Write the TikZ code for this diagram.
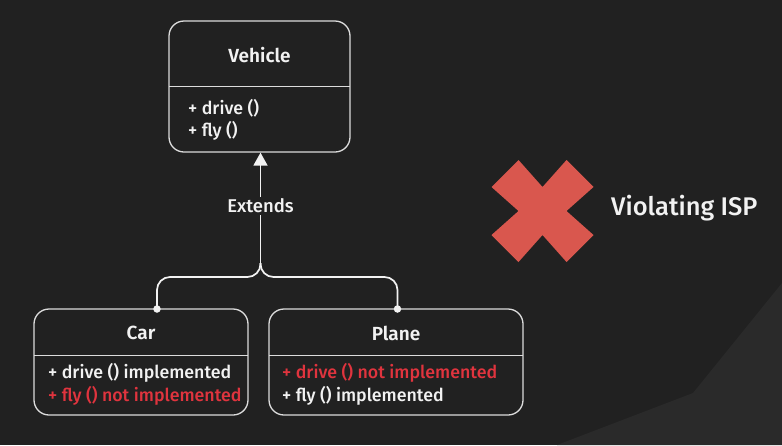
\documentclass[tikz,border=0pt]{standalone}
\usepackage{fontspec}
\setmainfont{Fira Sans}[UprightFont={* Medium}, BoldFont={* SemiBold}]
\usetikzlibrary{arrows.meta}
\definecolor{bgdark}{HTML}{212121}
\definecolor{bglight}{HTML}{2A2A2A}
\definecolor{linegray}{HTML}{DCDCDC}
\definecolor{txtwhite}{HTML}{F2F2F2}
\definecolor{txtred}{HTML}{E0343E}
\definecolor{crossred}{HTML}{D9574E}
\tikzset{
  umlbox/.style={draw=linegray, line width=1.3pt, rounded corners=15pt, inner sep=0pt},
  divider/.style={draw=linegray, line width=0.9pt},
  titletext/.style={text=txtwhite, font=\fontsize{19}{22}\selectfont\bfseries, inner sep=0pt},
  methodtext/.style={text=txtwhite, font=\fontsize{17.8}{22}\selectfont, inner sep=0pt, anchor=west},
  redtext/.style={methodtext, text=txtred},
  conn/.style={draw=txtwhite, line width=1.7pt},
  joint/.style={circle, fill=txtwhite, inner sep=0pt, minimum size=7.5pt},
}
\begin{document}
\begin{tikzpicture}[x=1pt,y=-1pt]
\useasboundingbox (0,0) rectangle (782,445);
\fill[bgdark] (0,0) rectangle (782,445);
\fill[bglight] (782,283) -- (693,393) -- (557,445) -- (782,445) -- cycle;

% Vehicle
\node[umlbox, minimum width=181pt, minimum height=131pt] (veh) at (259.5,86.5) {};
\draw[divider] (169,86) -- (350,86);
\node[titletext] (vehT) at (259.5,55) {Vehicle};
\node[methodtext] (vehM1) at (188,108) {+ drive ()};
\node[methodtext] (vehM2) at (188,131) {+ fly ()};

% Car
\node[umlbox, minimum width=214pt, minimum height=106pt] (car) at (141,362) {};
\draw[divider] (34,355) -- (248,355);
\node[titletext] (carT) at (141,333) {Car};
\node[methodtext] (carM1) at (48,373) {+ drive () implemented};
\node[redtext] (carM2) at (48,396) {+ fly () not implemented};

% Plane
\node[umlbox, minimum width=254pt, minimum height=106pt] (pla) at (396,362) {};
\draw[divider] (269,355) -- (523,355);
\node[titletext] (plaT) at (396,333) {Plane};
\node[redtext] (plaM1) at (282,373) {+ drive () not implemented};
\node[methodtext] (plaM2) at (282,396) {+ fly () implemented};

% connectors
\coordinate (cj) at (157,309);
\coordinate (pj) at (397.5,309);
\coordinate (jn) at (260.5,263);
\draw[conn, rounded corners=13pt] (cj) -- (157,277) -- (260.5,277) -- (jn);
\draw[conn, rounded corners=13pt] (pj) -- (397.5,277) -- (260.5,277) -- (jn);
\draw[conn, -{Triangle[width=14pt,length=13pt]}] (jn) -- (veh.south -| jn);
\node[joint] (cjd) at (cj) {};
\node[joint] (pjd) at (pj) {};
\node[fill=bgdark, text=txtwhite, font=\fontsize{18.5}{22}\selectfont, inner sep=2pt] (ext) at (260.5,206) {Extends};

% Cross
\fill[crossred] (542.5,187) -- (566.5,160) -- (593.5,187) -- (566.5,211)
  -- (593.5,235) -- (566.5,262) -- (542.5,235) -- (518.5,262)
  -- (491.5,235) -- (518.5,211) -- (491.5,187) -- (518.5,160) -- cycle;
\node[text=txtwhite, font=\fontsize{25.5}{30}\selectfont, anchor=west, inner sep=0pt] (viol) at (611,208) {Violating ISP};
\end{tikzpicture}
\end{document}
